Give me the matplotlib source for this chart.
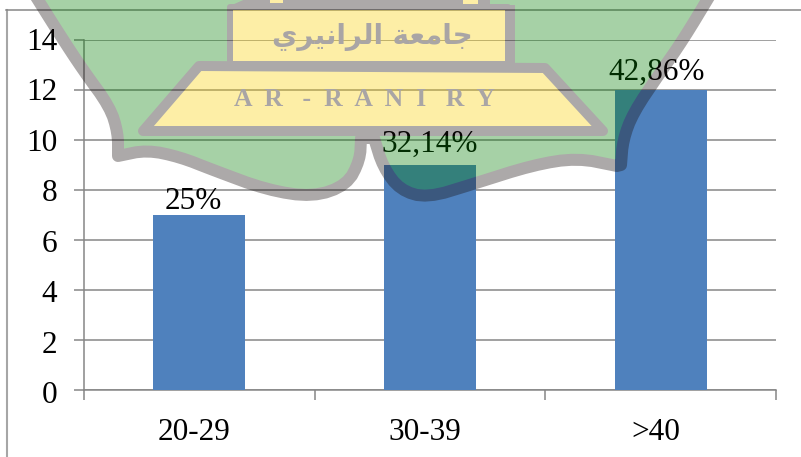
import numpy as np
import matplotlib
matplotlib.use("Agg")
import matplotlib.pyplot as plt
from matplotlib.figure import Figure
from matplotlib.backends.backend_agg import FigureCanvasAgg
from matplotlib.patches import Polygon
from matplotlib.transforms import ScaledTranslation

categories = ["20-29", "30-39", ">40"]
values = [7, 9, 12]
percent_labels = ["25%", "32,14%", "42,86%"]
label_offsets_px = [(-6, 6), (0, 13), (-4, 10)]
y_ticks = [0, 2, 4, 6, 8, 10, 12, 14]

W, H = 801, 457
plt.rcParams["font.family"] = ["Liberation Serif", "DejaVu Serif"]
FS = 22.5
GRID = "#868686"
BAR = "#4f81bd"

fig = plt.figure(figsize=(W / 100, H / 100), dpi=100, facecolor="white")
ax = fig.add_axes([84 / W, 1 - 390 / H, (776 - 84) / W, 350 / H])
x = np.arange(len(categories)) + 0.5
ax.set_axisbelow(True)
ax.yaxis.grid(True, color=GRID, lw=1.1)
ax.bar(x, values, width=0.4, color=BAR, zorder=3)
ax.set_xlim(0, 3)
ax.set_ylim(0, 14)
for s in ("top", "right"):
    ax.spines[s].set_visible(False)
for s in ("left", "bottom"):
    ax.spines[s].set_color(GRID)
    ax.spines[s].set_linewidth(1.1)
ax.set_yticks(y_ticks)
ax.set_xticks([0, 1, 2, 3])
ax.set_xticklabels([])
ax.tick_params(axis="both", length=7.2, width=1.1, color=GRID, labelsize=FS)
ax.tick_params(axis="y", pad=12)
for t, v in zip(ax.get_yticklabels(), y_ticks):
    down = 2 - 3 * v / y_ticks[-1]
    t.set_transform(t.get_transform() + ScaledTranslation(0, -down / 100, fig.dpi_scale_trans))
for xi, c in zip(x, categories):
    ax.annotate(c, (xi, 0), xytext=(-5, -50), textcoords="offset pixels",
                ha="center", va="baseline", fontsize=FS, color="black")
for xi, v, lab, (dx, dy) in zip(x, values, percent_labels, label_offsets_px):
    ax.annotate(lab, (xi, v), xytext=(dx, dy), textcoords="offset pixels",
                ha="center", va="baseline", fontsize=FS, color="black", zorder=5)

# outer frame
fig.add_artist(plt.Line2D([6.5 / W, 6.5 / W], [0, 1 - 10 / H], color="#a6a6a6", lw=1.5))
fig.add_artist(plt.Line2D([6 / W, 1], [1 - 10 / H, 1 - 10 / H], color=GRID, lw=1.1))


# --- translucent logo watermark ---
def smooth(pts, n=3):
    p = np.array(pts, float)
    for _ in range(n):
        q = 0.75 * p[:-1] + 0.25 * p[1:]
        r = 0.25 * p[:-1] + 0.75 * p[1:]
        m = np.empty((len(q) * 2, 2))
        m[0::2], m[1::2] = q, r
        p = np.vstack([p[0], m, p[-1]])
    return p


left_side = smooth([(33, -8), (60, 35), (83, 70), (110, 107), (118, 133), (118, 156)], 2)
bottom_a = smooth([(118, 156), (147, 150), (180, 157), (213, 170), (267, 190), (313, 197),
                   (347, 185), (360, 160), (361, 138)], 2)
bottom_b = smooth([(374, 138), (383, 167), (400, 190), (427, 198), (473, 184), (533, 165),
                   (577, 158), (617, 166)], 2)
right_side = smooth([(621, 165), (623, 140), (633, 113), (660, 73), (683, 40), (712, -8)], 2)
shield = np.vstack([left_side, bottom_a, bottom_b, right_side])
GREEN, YEL, DARK = "#068006", "#fad008", "#180e0e"
off = Figure(figsize=(W / 100, H / 100), dpi=100, facecolor="none")
FigureCanvasAgg(off)
o = off.add_axes([0, 0, 1, 1])
o.set_xlim(0, W)
o.set_ylim(H, 0)
o.axis("off")
o.patch.set_alpha(0)
shapes = [
    (shield, GREEN, DARK, 12),
    ([(232, 5), (250, -3), (490, -3), (490, 8), (232, 8)], DARK, DARK, 0),
    ([(270, -3), (283, -3), (283, 3), (270, 3)], YEL, YEL, 0),
    ([(463, -3), (478, -3), (478, 4), (463, 4)], YEL, YEL, 0),
    ([(230, 7), (508, 7), (508, 64), (230, 64)], YEL, DARK, 6),
    ([(505, 5), (515, 5), (515, 64), (505, 64)], DARK, DARK, 0),
    ([(199, 66), (545, 68), (603, 131), (143, 131)], YEL, DARK, 10),
]
for pts, col, edge, lw in shapes:
    o.add_patch(Polygon(pts, closed=True, fc=col, ec=edge, lw=lw * 0.72, joinstyle="round"))
off.canvas.draw()
rgba = np.asarray(off.canvas.buffer_rgba()).astype(float) / 255
rgba[..., 3] *= 0.36
ov = fig.add_axes([0, 0, 1, 1], zorder=10)
ov.imshow(rgba, extent=(0, W, H, 0), interpolation="nearest", aspect="auto")
ov.set_xlim(0, W)
ov.set_ylim(H, 0)
ov.axis("off")
TXT = "#a9a5a5"
ov.text(364, 99, "A  R   -  R  A  N  I   R  Y", ha="center", va="center", fontsize=18.5,
        fontweight="bold", color=TXT)
arabic = "\ufef1\ufeae\ufef4\ufee7\ufe8d\ufeae\ufedf\ufe8d \ufe94\ufecc\ufee3\ufe8e\ufe9f"
ov.text(372, 37, arabic, ha="center", va="center", fontsize=20, fontweight="bold",
        color=TXT, family=["DejaVu Sans"])

fig.savefig("out.png", dpi=100)
